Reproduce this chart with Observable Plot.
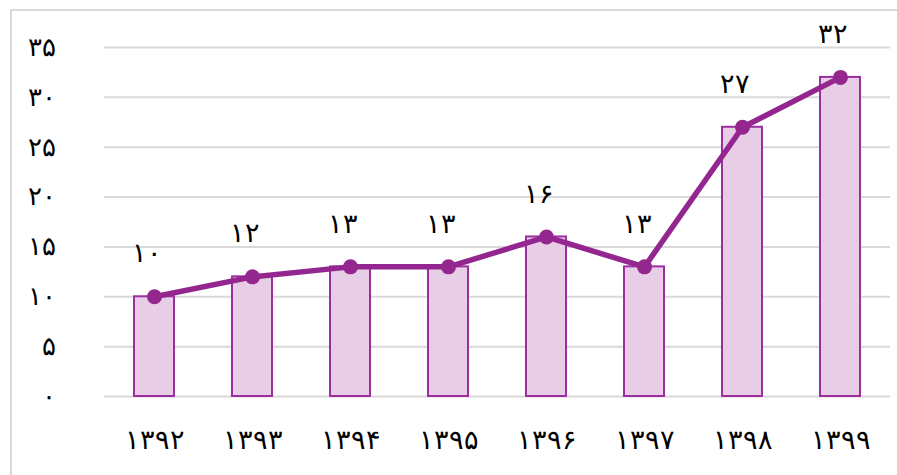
<!DOCTYPE html>
<html>
<head>
<meta charset="utf-8">
<script src="https://cdn.jsdelivr.net/npm/d3@7"></script>
<script src="https://cdn.jsdelivr.net/npm/@observablehq/plot@0.6"></script>
<style>
  html, body { margin: 0; padding: 0; background: #fff; overflow: hidden; }
  #wrap { position: relative; width: 897px; height: 475px; }
  #frame { position: absolute; left: 10px; top: 9px; width: 900px; height: 480px; border: 2px solid #d9d9d9; box-sizing: border-box; }
  #chart { position: absolute; left: 0; top: 0; }
</style>
</head>
<body>
<div id="wrap"><div id="frame"></div><div id="chart"></div></div>
<script>
const years = ["۱۳۹۲", "۱۳۹۳", "۱۳۹۴", "۱۳۹۵", "۱۳۹۶", "۱۳۹۷", "۱۳۹۸", "۱۳۹۹"];
const values = [10, 12, 13, 13, 16, 13, 27, 32];
const yTicks = [0, 5, 10, 15, 20, 25, 30, 35];

const fa = n => String(n).replace(/\d/g, d => "۰۱۲۳۴۵۶۷۸۹"[d]);
const data = years.map((y, i) => ({year: y, value: values[i]}));
const purple = "#93278f";
const font = "'DejaVu Sans', sans-serif";

const chart = Plot.plot({
  width: 897,
  height: 475,
  marginLeft: 104,
  marginRight: 7,
  marginTop: 47,
  marginBottom: 79,
  style: {fontFamily: font, fontSize: "26px", color: "#000", background: "transparent"},
  x: {domain: years, paddingInner: 0.59, paddingOuter: 0.295, label: null},
  y: {domain: [0, 35], label: null},
  marks: [
    Plot.gridY(yTicks, {stroke: "#d9d9d9", strokeOpacity: 1, strokeWidth: 2}),
    Plot.axisY(yTicks, {tickSize: 0, tickPadding: 49, tickFormat: fa, fontSize: 26, fontWeight: 300, label: null}),
    Plot.axisX({tickSize: 0, tickPadding: 33, fontSize: 27, fontWeight: 300, label: null}),
    Plot.barY(data, {x: "year", y: "value", fill: "#e8cde6", stroke: "#9b2fa0", strokeWidth: 2}),
    Plot.line(data, {x: "year", y: "value", stroke: purple, strokeWidth: 5.5}),
    Plot.dot(data, {x: "year", y: "value", fill: purple, r: 7.5}),
    Plot.text(data, {x: "year", y: "value", text: d => fa(d.value), dy: -43, dx: -8, fontSize: 27, fontWeight: 300, fill: "#000"})
  ]
});
document.getElementById("chart").appendChild(chart);
</script>
</body>
</html>
